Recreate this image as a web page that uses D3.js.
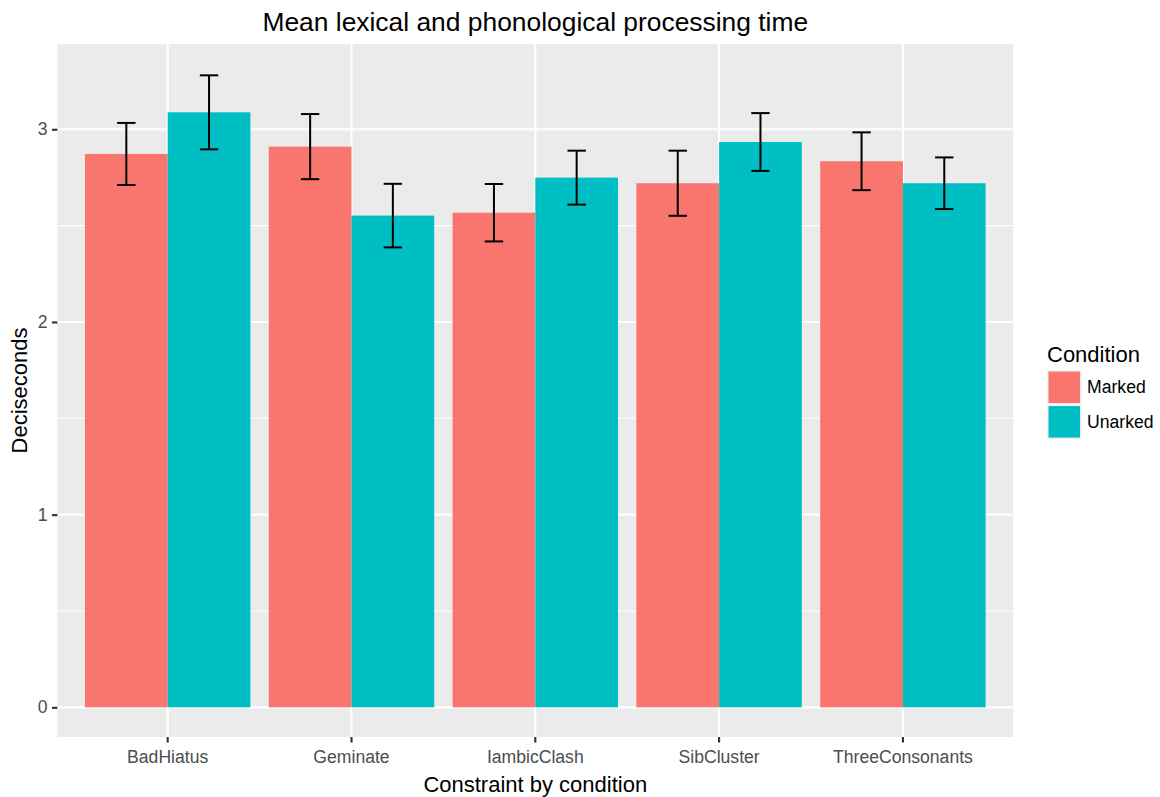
<!DOCTYPE html>
<html>
<head>
<meta charset="utf-8">
<script src="https://cdn.jsdelivr.net/npm/d3@7"></script>
<style>
  html, body { margin: 0; padding: 0; background: #ffffff; }
  svg { display: block; }
  text { font-family: "Liberation Sans", Arial, "DejaVu Sans", sans-serif; }
</style>
</head>
<body>
<svg id="chart" width="1160" height="797"></svg>
<script>
// Mean processing time per constraint, split by condition
const categories = ["BadHiatus", "Geminate", "IambicClash", "SibCluster", "ThreeConsonants"];
const conditions = ["Marked", "Unarked"];
const markedMean = [2.872, 2.910, 2.567, 2.720, 2.834];
const markedSE   = [0.161, 0.169, 0.149, 0.169, 0.150];
const unarkedMean = [3.088, 2.552, 2.749, 2.934, 2.720];
const unarkedSE   = [0.192, 0.165, 0.140, 0.150, 0.134];
const yTicks = [0, 1, 2, 3];
const yMinorTicks = [0.5, 1.5, 2.5];
const colors = ["#F8766D", "#00BFC4"];

const rows = [];
categories.forEach((c, i) => {
  rows.push({ cat: c, cond: "Marked", mean: markedMean[i], se: markedSE[i] });
  rows.push({ cat: c, cond: "Unarked", mean: unarkedMean[i], se: unarkedSE[i] });
});

const svg = d3.select("#chart");
const panel = { left: 57.4, right: 1013.2, top: 44, bottom: 737 };

// Discrete x axis: 0.6 of a step expansion on both sides, dodge width 0.9
const x = d3.scaleBand()
  .domain(categories)
  .range([panel.left, panel.right])
  .paddingInner(0.1)
  .paddingOuter(0.15);
const xSub = d3.scaleBand().domain(conditions).range([0, x.bandwidth()]);
const color = d3.scaleOrdinal().domain(conditions).range(colors);

const y = d3.scaleLinear().domain([-0.154, 3.4426]).range([panel.bottom, panel.top]);

// Panel background
svg.append("rect")
  .attr("x", panel.left).attr("y", panel.top)
  .attr("width", panel.right - panel.left)
  .attr("height", panel.bottom - panel.top)
  .attr("fill", "#EBEBEB");

// Grid lines
const grid = svg.append("g");
grid.selectAll(".minor").data(yMinorTicks).join("line")
  .attr("x1", panel.left).attr("x2", panel.right)
  .attr("y1", d => y(d)).attr("y2", d => y(d))
  .attr("stroke", "#ffffff").attr("stroke-width", 1.07);
grid.selectAll(".majory").data(yTicks).join("line")
  .attr("x1", panel.left).attr("x2", panel.right)
  .attr("y1", d => y(d)).attr("y2", d => y(d))
  .attr("stroke", "#ffffff").attr("stroke-width", 2.13);
grid.selectAll(".majorx").data(categories).join("line")
  .attr("x1", d => x(d) + x.bandwidth() / 2).attr("x2", d => x(d) + x.bandwidth() / 2)
  .attr("y1", panel.top).attr("y2", panel.bottom)
  .attr("stroke", "#ffffff").attr("stroke-width", 2.13);

// Bars
svg.append("g").selectAll("rect").data(rows).join("rect")
  .attr("x", d => x(d.cat) + xSub(d.cond))
  .attr("width", xSub.bandwidth())
  .attr("y", d => y(d.mean))
  .attr("height", d => y(0) - y(d.mean))
  .attr("fill", d => color(d.cond));

// Error bars (mean ± se)
const ebHalf = x.step() * 0.1 / 2;
const eb = svg.append("g").attr("stroke", "#000000").attr("stroke-width", 2).attr("fill", "none");
rows.forEach(d => {
  const cx = x(d.cat) + xSub(d.cond) + xSub.bandwidth() / 2;
  const lo = y(d.mean - d.se), hi = y(d.mean + d.se);
  eb.append("line").attr("x1", cx).attr("x2", cx).attr("y1", lo).attr("y2", hi);
  eb.append("line").attr("x1", cx - ebHalf).attr("x2", cx + ebHalf).attr("y1", hi).attr("y2", hi);
  eb.append("line").attr("x1", cx - ebHalf).attr("x2", cx + ebHalf).attr("y1", lo).attr("y2", lo);
});

// Axes
const xAxis = d3.axisBottom(x).tickSize(5.5).tickPadding(8.5);
const gx = svg.append("g").attr("transform", `translate(0,${panel.bottom})`).call(xAxis);
gx.select(".domain").remove();
gx.selectAll(".tick line").attr("stroke", "#333333").attr("stroke-width", 2.13);
gx.selectAll(".tick text").attr("fill", "#4D4D4D").attr("font-size", 17.6)
  .attr("font-family", "\"Liberation Sans\", Arial, sans-serif");

const yAxis = d3.axisLeft(y).tickValues(yTicks).tickFormat(d3.format("d")).tickSize(5.5).tickPadding(4.4);
const gy = svg.append("g").attr("transform", `translate(${panel.left},0)`).call(yAxis);
gy.select(".domain").remove();
gy.selectAll(".tick line").attr("stroke", "#333333").attr("stroke-width", 2.13);
gy.selectAll(".tick text").attr("fill", "#4D4D4D").attr("font-size", 17.6)
  .attr("font-family", "\"Liberation Sans\", Arial, sans-serif");

// Titles
const midX = (panel.left + panel.right) / 2;
const midY = (panel.top + panel.bottom) / 2;
svg.append("text").attr("x", midX).attr("y", 31)
  .attr("text-anchor", "middle").attr("font-size", 26.4).attr("fill", "#000000")
  .text("Mean lexical and phonological processing time");
svg.append("text").attr("x", midX).attr("y", 792)
  .attr("text-anchor", "middle").attr("font-size", 22).attr("fill", "#000000")
  .text("Constraint by condition");
svg.append("text")
  .attr("transform", `translate(27,${midY}) rotate(-90)`)
  .attr("text-anchor", "middle").attr("font-size", 22).attr("fill", "#000000")
  .text("Deciseconds");

// Legend
const legend = svg.append("g").attr("transform", "translate(1047,0)");
legend.append("text").attr("x", 0).attr("y", 362)
  .attr("font-size", 22).attr("fill", "#000000").text("Condition");
const keySize = 34.56;
conditions.forEach((c, i) => {
  const ky = 370 + i * keySize;
  legend.append("rect").attr("x", 0).attr("y", ky)
    .attr("width", keySize).attr("height", keySize).attr("fill", "#F2F2F2");
  legend.append("rect").attr("x", 1.5).attr("y", ky + 1.5)
    .attr("width", keySize - 3).attr("height", keySize - 3).attr("fill", color(c));
  legend.append("text").attr("x", keySize + 5.5).attr("y", ky + keySize / 2)
    .attr("dy", "0.35em").attr("font-size", 17.6).attr("fill", "#000000").text(c);
});
</script>
</body>
</html>
